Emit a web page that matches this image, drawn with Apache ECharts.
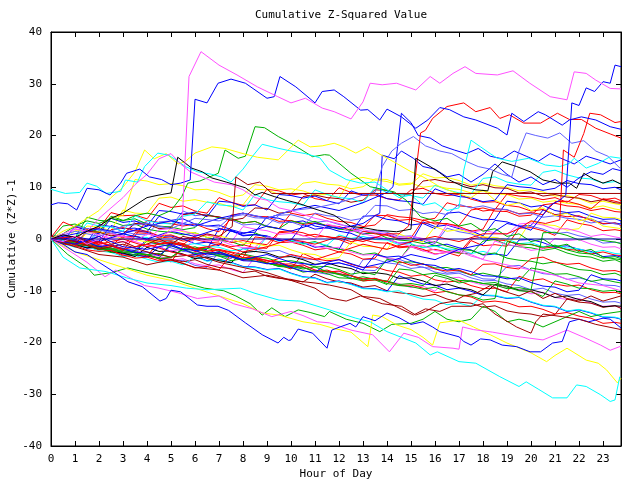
<!DOCTYPE html>
<html><head><meta charset="utf-8">
<script src="https://cdn.jsdelivr.net/npm/echarts@6/dist/echarts.min.js"></script>
<style>html,body{margin:0;padding:0;background:#fff}#c{width:640px;height:480px}</style>
</head><body><div id="c"></div>
<script>
// tick labels
const xTicks = [0,1,2,3,4,5,6,7,8,9,10,11,12,13,14,15,16,17,18,19,20,21,22,23];
const yTicks = [-40,-30,-20,-10,0,10,20,30,40];
// sample hours shared by the half-hourly traces
const hours = [0,0.5,1,1.5,2,2.5,3,3.5,4,4.5,5,5.5,6,6.5,7,7.5,8,8.5,9,9.5,10,10.5,11,11.5,12,12.5,13,13.5,14,14.5,15,15.5,16,16.5,17,17.5,18,18.5,19,19.5,20,20.5,21,21.5,22,22.5,23,23.5,23.75];

// outlying traces: [hour, cumulative (Z*Z)-1]
const m1 = [[0,0],[0.5,-0.5],[1,0.5],[1.5,-1],[2,0],[2.5,1],[3,0.5],[3.5,-0.5],[4,1],[4.5,0.5],[5,1.5],[5.45,1.7],[5.75,31.4],[6.25,36.2],[7.0,33.6],[7.75,31.7],[8.6,29.4],[9.45,27.5],[10,26.3],[10.6,27.2],[11.3,25.3],[11.8,24.6],[12.5,23.2],[13,26.5],[13.3,30.1],[13.8,29.8],[14.4,30.1],[15.2,28.8],[15.8,31.4],[16.2,30.1],[16.75,32],[17.25,33.3],[17.7,32],[18.6,31.7],[19.25,32.5],[19.95,30.1],[20.8,27.5],[21.5,26.9],[21.8,32.3],[22.3,32],[22.7,30.7],[23.3,29.1],[23.75,29]];
const b1 = [[0,6.6],[0.3,7],[0.7,6.8],[1.07,5.6],[1.5,9.8],[2,9.5],[2.46,8.5],[2.9,10.8],[3.15,12.7],[3.7,13.5],[4.1,12],[4.6,11.5],[5.0,10.5],[5.4,10.8],[5.8,11.4],[6.0,27],[6.5,26.3],[6.96,30.1],[7.5,30.9],[8.1,30.1],[9.0,27.2],[9.3,27.5],[9.54,31.4],[10.2,29.4],[11.0,26.3],[11.3,28.5],[11.8,28.8],[12.2,27.5],[12.9,24.9],[13.2,25],[13.7,23],[14.0,25.1],[14.6,23.6],[15.2,21.4],[15.7,23],[16.2,25.4],[16.6,25],[17.2,23.6],[17.7,23],[18.6,21.4],[19,20.1],[19.2,24.3],[19.7,22.7],[20.3,24.6],[20.6,24],[21.3,22],[21.6,23],[22.1,23.6],[22.7,23],[23.3,21.7],[23.75,21.2]];
const b2 = [[0,0],[1,-1],[2,0.5],[3,-1.5],[4,-2],[5,-1],[6,-3],[7,-2.5],[8,-4],[9,-3],[10,-4.5],[11,-5],[12,-4],[13,-5.5],[14,-4.5],[15,-3],[16,-4],[17,-2],[18,-1],[18.5,1.5],[19,3],[19.5,2.5],[20,1.7],[20.4,4],[20.8,6.5],[21.2,7.5],[21.45,8.5],[21.7,26.3],[22,25.8],[22.3,29.2],[22.65,28.5],[23,30.4],[23.3,30.1],[23.5,33.6],[23.75,33.3]];
const r1 = [[0,0],[1,0.5],[2,-1],[3,0],[4,-1.5],[5,-0.5],[6,-2],[7,-1],[8,-2.5],[9,-1.5],[10,0],[11,-1],[12,0.5],[13,-0.5],[14,1],[14.5,1],[14.9,2.5],[15.1,9],[15.4,20.5],[15.6,21],[15.9,23.3],[16.5,25.6],[17.2,26.3],[17.7,24.6],[18.3,25.4],[18.7,23.3],[19.1,24],[19.7,22.4],[20.4,22.4],[21.1,24.3],[21.6,23.1],[22.1,23.1],[22.7,21.4],[23.3,20.3],[23.75,19.5]];
const r2 = [[0,0],[1,-1],[2,-0.5],[3,-2],[4,-1],[5,-2.5],[6,-3.5],[7,-2],[8,-3],[9,-4.5],[10,-3],[11,-4],[12,-2.5],[13,-1],[14,-2],[15,-0.5],[16,0.5],[17,-0.5],[18,1],[19,1],[19.5,2],[20,3.5],[20.6,3],[21.2,3.7],[21.35,17.2],[21.8,15.8],[22.2,20.4],[22.45,24.3],[22.9,24],[23.5,22.5],[23.75,22.7]];
const m2 = [[0,0],[0.5,1],[1,2],[1.5,1.5],[2,4],[2.5,6],[3,8],[3.5,10.5],[4,12.5],[4.5,15.5],[5,16.5],[5.4,14.5],[5.8,13],[6.3,12],[6.8,11],[7.5,10.5],[8,9.5],[8.5,8],[9,7.5],[9.5,6],[10,5.5],[11,4],[12,3],[13,1],[14,0],[15,-1.5],[16,-3],[17,-2],[18,-4],[19,-5],[20,-6],[21,-7],[22,-8.5],[23,-9],[23.75,-10]];
const k1 = [[0,0],[0.5,0.8],[1,0.3],[1.5,1.5],[2,2.5],[2.5,4],[3,5],[3.5,6.5],[4,8],[4.5,8.5],[5.0,8.9],[5.28,15.8],[5.86,13.7],[6.3,13],[6.7,11.8],[7.3,11],[8.1,9.9],[8.5,8.5],[8.8,9],[9.3,8.2],[9.8,7.5],[10.3,6.9],[11,5.8],[11.8,4.6],[12.5,2.4],[13,2.2],[13.6,1.7],[14.4,1.4],[15,1.9],[15.2,15.6],[15.8,14],[16.2,12.8],[16.6,11.4],[17.2,10.1],[17.7,9.5],[18.2,9.3],[18.4,13],[18.8,14.9],[19.4,14],[19.96,13],[20.5,11.4],[21.1,10.8],[21.6,10.8],[21.9,9.8],[22.2,12.7],[22.6,11.6],[23,10.8],[23.4,11.4],[23.75,10.6]];
const dr1 = [[0,0],[0.5,-0.5],[1,0.5],[1.5,-0.5],[2,0.5],[2.5,-1],[3,-0.5],[3.5,-1.5],[4,-1],[4.5,0],[5,-1],[5.5,0.5],[6,0],[6.5,1],[7,0.5],[7.55,2.4],[7.7,12],[8.2,10.5],[8.7,11],[9.2,8.8],[23.75,8.8]];
const g1 = [[0,0],[0.5,1],[1,2.5],[1.5,3.5],[2,3],[2.5,4],[3,3.5],[3.5,4.5],[4,5],[4.5,4.5],[5,5.5],[5.45,8.2],[5.7,10.8],[6.2,11.2],[6.97,12.7],[7.25,17.2],[7.8,15.6],[8.1,16],[8.5,21.7],[8.9,21.5],[9.47,19.8],[10,18.5],[10.9,15.9],[11.4,16.3],[11.6,16.2],[12.5,12.7],[13.3,10.1],[14.3,9.1],[14.8,7.5],[15.4,4.3],[16,3.5],[16.5,4],[17,2.5],[17.5,3],[18,1.5],[18.5,2],[19,0.5],[19.5,1],[20,-0.5],[20.5,0],[21,-1.5],[21.5,-1],[22,-2.5],[22.5,-2],[23,-3.5],[23.75,-4]];
const y1 = [[0,0],[0.5,1.5],[1,2.5],[1.5,4],[2,5.5],[2.5,8],[3,10],[3.5,13],[3.9,17.2],[4.3,15.5],[4.8,16.5],[5.3,14.5],[5.6,15],[6,16.6],[6.7,17.8],[7.25,17.5],[8,16.5],[8.6,15.8],[9.47,15.3],[10.3,19.1],[10.8,17.8],[11.3,18],[11.8,18.5],[12.2,17.8],[12.7,16.6],[13.2,17.8],[13.7,16.4],[14.4,14.6],[15.0,13],[15.5,12],[16.2,10.1],[16.8,9],[17.5,8],[18,9.5],[18.5,7.5],[19,6.5],[19.5,7],[20,5.5],[20.5,6],[21,4.5],[21.5,5],[22,3.5],[22.5,4],[23,2.5],[23.75,2]];
const c1 = [[0,9.6],[0.6,8.8],[1.2,9],[1.5,10.8],[1.9,10.2],[2.3,8.8],[2.9,9.2],[3.1,11.4],[3.6,11],[3.9,14],[4.45,16.6],[4.9,16.2],[5.3,15],[5.6,14],[6.1,13],[6.7,12.5],[7.1,12],[7.5,11],[8.0,13.5],[8.4,16],[8.8,18.3],[9.5,17.5],[10,17],[10.6,16.5],[11.2,15.7],[11.6,13.3],[12.3,11.5],[12.9,10.8],[13.5,11],[14,9.5],[14.5,8],[15,8.5],[15.5,6.5],[16,7],[16.5,5.5],[17,6],[17.2,13.3],[17.5,19.1],[17.9,17.8],[18.3,16.5],[18.6,15.6],[19.2,15],[19.9,15.6],[20.6,14.3],[21.2,14],[21.6,14.6],[21.8,15.6],[22.3,13.7],[22.8,14.6],[23.3,15.9],[23.75,15.6]];
const b4 = [[0,0],[1,0.5],[2,-0.5],[3,1],[4,0],[5,1.5],[6,0.5],[7,2],[8,1],[9,2.5],[10,1.5],[11,3],[12,2],[13,3],[13.5,4.5],[13.7,5],[13.8,16.2],[14.3,15.5],[14.6,17],[15.1,15.6],[15.5,14],[16,13.5],[16.5,12],[17,12.5],[17.5,11],[18,12.5],[18.5,14.5],[19,12.5],[19.5,11],[20,12],[20.5,10.5],[21,11.5],[21.5,10],[22,11.8],[22.5,13],[23,12.5],[23.4,13.6],[23.75,13.2]];
const b5 = [[0,0],[1,1],[2,2],[3,1],[4,2.5],[5,3.5],[6,2.5],[7,4],[8,5],[9,4],[10,5.5],[11,6.5],[12,5.5],[13,7],[13.5,8],[14,9],[14.25,10.1],[14.6,24.3],[15.0,22.5],[15.3,20],[15.8,19.5],[16.3,18],[16.8,17.2],[17.3,16.5],[17.8,17.5],[18.3,16],[18.8,15.5],[19.3,17],[19.8,16],[20.3,15],[20.8,16.5],[21.3,15.5],[21.8,14.5],[22.3,16],[22.8,15.3],[23.3,14.5],[23.75,15.3]];
const lb1 = [[0,0],[1,1.5],[2,0.5],[3,2.5],[4,3],[5,2],[6,4],[7,3.5],[8,5],[9,4],[10,5.5],[11,6],[12,7],[13,8.5],[13.5,9],[13.8,14],[14.2,17],[14.6,18.5],[15.1,19.8],[15.6,18],[16.2,17],[16.7,16.5],[17.3,15],[17.8,14],[18.3,13.5],[18.8,12.5],[19.2,12],[19.5,17],[19.8,20.5],[20.2,20],[20.7,19.5],[21.2,20.5],[21.7,18.5],[22.2,19],[22.7,17],[23.2,16],[23.75,13.5]];
// traced lower traces
const l12 = [[0,0],[0.7,-3],[1.55,-5.7],[1.8,-7],[2.5,-6.5],[3.2,-5.6],[4,-6.5],[5,-7.5],[5.6,-8.5],[6.4,-9.5],[7.2,-10],[7.7,-11],[8.3,-12.5],[8.8,-14.7],[9.2,-13.3],[9.75,-15],[10.3,-13.7],[10.8,-14.2],[11.4,-15],[11.6,-14],[12.3,-15.5],[13,-16.3],[13.7,-17.9],[14.2,-16.5],[15,-16.3],[15.5,-15.5],[16,-14],[16.5,-15.5],[17,-16],[17.5,-15.5],[18,-13],[18.5,-14],[19,-16],[19.5,-15.5],[20,-16],[20.5,-17],[21,-16],[21.5,-15],[22,-14],[22.5,-15],[23,-14.5],[23.75,-14]];
const l13 = [[0,0],[1,-2.5],[2,-4],[3,-5.5],[4,-7],[5,-8],[6,-9.5],[7,-11],[8,-12.5],[8.8,-14.3],[9.5,-14.7],[10.5,-16],[11.2,-16.5],[11.8,-17.3],[12.5,-18],[13.2,-20.8],[13.3,-18.2],[13.4,-14.7],[13.8,-15],[14.4,-16.6],[15,-17.5],[15.5,-19],[15.9,-20.5],[16.2,-16.2],[17,-15.7],[17.6,-17],[18.3,-18.5],[19,-20.1],[20,-22],[20.65,-23.7],[21,-22.5],[21.5,-21.1],[22.3,-23.4],[22.8,-24],[23.15,-25.3],[23.6,-27.8],[23.75,-26.9]];
const l14 = [[0,0],[0.5,-1.5],[1,-3],[1.5,-4.5],[2.25,-7.3],[2.7,-6],[3.3,-7.5],[3.9,-9],[4.5,-9.5],[5.3,-10.4],[6.1,-11.5],[7,-11],[7.6,-12.5],[8.4,-13.5],[9.2,-15],[10,-14],[10.5,-14.8],[11.1,-16],[11.6,-16.2],[12.5,-17.6],[13.4,-18.5],[14.1,-21.8],[14.7,-18.2],[15.3,-19],[15.9,-20.8],[16.75,-21.1],[17.0,-21.3],[17.15,-17],[17.6,-17.5],[18.4,-18],[19.5,-18.9],[20.5,-19.5],[21.5,-17.6],[22.2,-19],[22.9,-20.5],[23.3,-21.5],[23.75,-20.7]];
const l15 = [[0,0],[0.5,-3.5],[1.2,-5.6],[2.3,-6.3],[3.15,-7.5],[4,-8.5],[5,-9],[5.65,-9.5],[6.5,-9.8],[7.9,-9.5],[8.5,-10.5],[9.5,-11.8],[10.4,-12],[11.6,-13.7],[12.7,-15.3],[13.3,-16],[14,-17.9],[14.6,-19],[15.2,-20.1],[15.8,-22.4],[16.1,-21.8],[17,-23.7],[17.7,-24],[18.7,-26.6],[19.5,-28.5],[19.8,-27.6],[20.3,-29],[20.9,-30.7],[21.5,-30.7],[21.9,-28.2],[22.3,-28.5],[22.9,-30.1],[23.3,-31.4],[23.5,-31.1],[23.7,-26.6]];
const l16 = [[0,0],[0.5,-1],[1,-2.5],[1.5,-3],[2,-4.5],[2.5,-6],[3.2,-8.25],[3.8,-9.2],[4.54,-12],[4.8,-11.5],[5.0,-9.9],[5.4,-10.2],[6.1,-12.75],[6.5,-13],[6.96,-13],[7.4,-13.8],[8.1,-16.2],[8.8,-18.5],[9.46,-20.1],[9.7,-19],[9.9,-19.6],[10,-19.5],[10.3,-17.4],[10.9,-18.2],[11.5,-21.1],[11.7,-17.6],[12.04,-17],[12.46,-16.3],[12.7,-17],[13,-15],[13.5,-15.8],[14,-14.3],[14.5,-15.2],[15,-16.5],[15.5,-16],[15.9,-17],[16.2,-17.9],[17,-18.9],[17.2,-19.8],[17.5,-20.5],[17.9,-19.3],[18.3,-19.5],[18.8,-20.5],[19.4,-20.8],[19.96,-21.8],[20.4,-21.8],[20.9,-20.1],[21.3,-19.8],[21.6,-16],[22,-15.5],[22.4,-16],[23,-15.3],[23.3,-15.5],[23.75,-17.2]];
const l17 = [[0,0],[1,-1.5],[2,-3],[3,-3.5],[4,-5],[5,-4],[6,-5.5],[7,-6],[8,-7.5],[9,-7],[10,-8],[11,-8.5],[11.6,-8.9],[12.5,-9.8],[13,-11.1],[13.7,-11.5],[14.4,-13.1],[15.1,-14.7],[15.6,-13.5],[16.2,-14],[16.7,-13],[17.5,-13],[18,-12.5],[18.5,-14.5],[19.4,-17],[20,-18.2],[20.2,-16],[20.5,-14.5],[21.3,-15],[22,-15.5],[22.7,-16.5],[23.75,-17.5]];
const l18 = [[0,0.5],[1,-0.5],[2,-2],[3,-1],[4,-2.5],[5,-3.5],[6,-3],[7,-4.5],[8,-5.5],[9,-6.5],[10,-8],[11,-9.5],[11.6,-11.4],[12.3,-12],[12.9,-11],[13.8,-12.5],[14.6,-13],[15.2,-14.7],[15.6,-14],[16.2,-12.5],[16.8,-12],[17.2,-11],[17.7,-10.5],[18.3,-9],[18.8,-10],[19.5,-11],[20,-10],[20.5,-11.5],[21,-10.5],[21.5,-11.5],[22,-12],[22.5,-11],[23,-12],[23.75,-11]];
// bulk of the traces, one value per entry of `hours`
const s1 = [0,-0.8,-0.5,-1.0,-1.2,-1.9,-1.5,1.2,1.1,0.2, 0.4,-0.4,-0.1,-0.6,-0.8,-1.5,-1.1,-1.7,-1.8,1.2, 1.4,0.6,0.9,0.4,0.2,-0.5,-0.1,-0.7,-0.8,-1.7, -1.5,-2.3,-2.0,-2.5,-2.7,0.0,0.4,-0.2,-0.3,-1.2, -1.0,-1.8,-1.5,-2.0,-2.2,-2.9,-2.5,-3.1,-3.2];
const s2 = [0.5,-0.1,-1.0,-0.7,2.8,2.4,1.4,1.6,1.3,0.5, 0.6,0.0,-0.9,-0.6,-1.3,1.7,0.7,0.9,0.6,-0.2, -0.1,-0.7,-1.6,-1.3,-2.0,2.0,1.0,1.2,0.9,0.1, 0.2,-0.4,-1.3,-1.0,-1.7,-2.1,-3.1,-2.9,-3.2,-0.2, -0.1,-0.7,-1.6,-1.3,-2.0,-2.4,-3.4,-3.2,-3.5];
const s3 = [-0.3,0.0,-1.0,-1.4,-1.2,-2.1,-2.7,-2.6,-3.3,-3.6, -4.4,-4.1,-5.1,-5.5,-2.5,-3.4,-4.0,-3.9,-4.6,-4.9, -5.7,-5.4,-6.4,-6.8,-6.6,-7.5,-4.0,-3.9,-4.6,-4.9, -5.7,-5.4,-6.4,-6.8,-6.6,-7.5,-8.1,-8.0,-8.7,-9.0, -9.8,-9.5,-10.5,-10.9,-10.7,-11.6,-12.2,-12.1,-12.4];
const s4 = [0.3,-0.2,0.2,4.2,3.6,3.4,2.6,2.9,1.9,1.5, 1.3,0.8,1.2,0.3,-0.3,-0.5,-1.3,1.2,0.2,-0.2, -0.4,-0.9,-0.5,-1.4,-2.0,-2.2,-3.0,-2.7,-3.7,-4.1, -1.1,-1.6,-1.2,-2.1,-2.7,-2.9,-0.4,-0.1,-1.1,-1.5, -1.7,-2.2,-1.8,-2.7,-3.3,-3.5,-4.3,-4.0,-4.5];
const s5 = [0,-0.6,-1.5,-1.2,-1.9,-2.3,-3.3,-3.1,-3.4,-0.4, -0.3,-0.9,-1.8,-1.5,-2.2,-2.6,-3.6,0.4,0.1,-0.7, -0.6,-1.2,-2.1,-1.8,-2.5,-2.9,-3.9,-3.7,-0.7,-1.5, -1.4,-2.0,-2.9,-2.6,-3.3,-0.3,-1.3,-1.1,-1.4,2.1, 2.2,1.6,0.7,3.7,3.0,2.6,1.6,1.8,1.6];
const s6 = [0,0.3,-0.7,-1.1,-0.9,-1.8,-2.4,-2.3,-3.0,-3.3, -4.1,-3.8,-4.8,-5.2,-5.0,-5.9,-6.5,-3.5,-4.2,-4.5, -5.3,-5.0,-6.0,-6.4,-6.2,-7.1,-7.7,-7.6,-8.3,-8.6, -9.4,-9.1,-10.1,-7.6,-7.4,-8.3,-8.9,-8.8,-9.5,-9.8, -10.6,-10.3,-11.3,-11.7,-11.5,-12.4,-13.0,-12.9,-13.3];
const s7 = [0.3,-0.5,-0.2,-0.7,1.3,0.6,1.0,0.4,0.3,-0.6, -0.4,-1.2,-0.9,-1.4,-1.6,-2.3,-1.9,-2.5,0.5,-0.4, -0.2,-1.0,-0.7,-1.2,0.8,0.1,0.5,-0.1,-0.2,-1.1, -0.9,-1.7,-1.4,-1.9,-2.1,-2.8,-2.4,-3.0,0.0,-0.9, -0.7,-1.5,-1.2,-1.7,-1.9,-2.6,-2.2,-2.8,-2.9];
const s8 = [0,-0.5,-0.1,-1.0,-1.6,-1.8,-2.6,-2.3,-3.3,-3.7, -3.9,-4.4,-4.0,-4.9,-5.5,-5.7,-6.5,-6.2,-7.2,-7.6, -7.8,-8.3,-6.8,-7.7,-8.3,-8.5,-9.3,-9.0,-10.0,-10.4, -10.6,-11.1,-10.7,-11.6,-12.2,-12.4,-13.2,-12.9,-13.9,-14.3, -14.5,-15.0,-14.6,-11.6,-12.2,-12.4,-13.2,-12.9,-13.4];
const s9 = [0,0.4,-0.3,-0.9,-0.6,-1.4,-2.0,-2.2,-0.1,-0.9, -0.8,-1.4,-2.3,-2.0,2.0,1.6,0.6,0.8,0.5,-0.3, -0.2,2.8,1.9,2.2,1.5,1.1,0.1,0.3,0.0,-0.8, -0.7,3.3,2.4,2.7,2.0,1.6,0.6,3.6,3.3,2.5, 2.6,5.6,4.7,5.0,4.3,3.9,2.9,3.1,2.9];
const s10 = [0,0.5,0.2,2.5,2.3,1.6,5.6,5.0,4.9,7.9, 8.1,7.3,7.6,7.1,6.9,6.2,6.6,9.6,9.5,8.6, 8.8,10.8,11.1,10.6,10.4,9.7,10.1,11.6,11.5,10.6, 10.8,10.0,10.3,9.8,9.6,8.9,9.3,8.7,8.6,7.7, 7.9,7.1,7.4,6.9,6.7,6.0,6.4,5.8,5.6];
const s11 = [-0.3,-0.9,-0.6,-1.5,-2.1,-1.9,-2.8,-3.2,-3.0,-3.9, -4.4,-1.4,-2.4,-2.8,-2.6,-3.5,-4.1,-4.0,-4.7,-5.0, -5.8,-2.8,-3.8,-4.2,-4.0,-4.9,-5.5,-5.4,-6.1,-6.4, -7.2,-6.9,-7.9,-8.3,-8.1,-9.0,-9.6,-9.5,-10.2,-7.2, -8.0,-7.7,-8.7,-9.1,-8.9,-9.8,-10.4,-10.3,-10.6];
const s12 = [0,0.3,-0.2,1.9,1.3,1.1,0.3,0.6,3.6,3.2, 3.0,2.5,2.9,2.0,1.4,3.9,3.1,3.4,2.4,2.0, 5.0,4.5,4.9,4.0,3.4,3.2,2.4,2.7,4.7,4.3, 4.1,3.6,4.0,7.0,6.4,6.2,5.4,5.7,8.7,8.3, 8.1,7.6,8.0,7.1,8.6,8.4,7.6,7.9,7.4];
const s13 = [0.5,0.8,-0.2,-0.6,-0.4,2.6,2.0,2.1,1.4,4.4, 3.6,3.9,2.9,2.5,2.7,1.8,1.2,1.3,4.3,4.0, 3.2,3.5,2.5,2.1,2.3,1.4,4.4,4.5,3.8,3.5, 2.7,3.0,2.0,5.0,5.2,4.3,3.7,3.8,7.3,7.0, 6.2,6.5,5.5,5.1,5.3,4.4,3.8,3.9,3.5];
const s14 = [0,0.4,-0.2,-0.5,-1.1,1.8,2.2,1.6,1.5,0.6, 0.8,0.0,0.3,-0.2,-0.4,4.6,5.0,4.4,4.3,3.4, 3.6,2.8,3.1,2.6,2.4,1.7,2.1,4.6,4.5,3.6, 3.8,3.0,3.3,2.8,2.6,5.6,6.0,5.4,5.3,4.4, 4.6,6.6,6.9,6.4,6.2,5.5,5.9,5.3,5.2];
const s15 = [0,0.3,-0.2,-0.8,1.8,1.4,0.4,3.4,3.1,2.3, 2.4,5.4,4.5,4.8,4.1,3.7,2.7,2.9,2.6,4.6, 4.7,4.1,3.2,3.5,2.8,2.4,1.4,1.6,1.3,0.5, 0.6,0.0,-0.9,2.1,1.4,1.0,0.0,0.2,-0.1,2.4, 2.5,1.9,1.0,1.3,0.6,0.2,-0.8,-0.6,-0.8];
const s16 = [0,2.5,2.9,2.0,1.4,4.4,3.6,3.9,2.9,2.5, 2.3,1.8,2.2,4.7,4.1,3.9,3.1,3.4,2.4,2.0, 3.5,3.0,3.4,2.5,1.9,1.7,0.9,1.2,0.2,-0.2, -0.4,-0.9,-0.5,-1.4,-2.0,-2.2,-3.0,-2.7,-3.7,-4.1, -4.3,-4.8,-4.4,-5.3,-5.9,-6.1,-6.9,-6.6,-7.1];
const s17 = [0.3,3.3,2.3,1.9,2.1,5.1,4.5,4.6,3.9,6.9, 6.1,6.4,5.4,5.0,8.0,7.1,6.5,6.6,9.6,9.3, 8.5,8.8,7.8,7.4,9.9,9.0,8.4,8.5,7.8,7.5, 9.5,9.8,8.8,8.4,8.6,7.7,7.1,7.2,6.5,6.2, 5.4,5.7,4.7,4.3,4.5,3.6,3.0,3.1,2.6];
const s18 = [0,-0.7,-0.9,-1.8,-1.5,-2.1,-2.9,-3.0,-3.5,-1.5, -2.4,-3.1,-3.3,-4.2,-3.9,-4.5,-5.3,-5.4,-5.9,-5.7, -6.6,-7.3,-7.5,-8.4,-8.1,-8.7,-9.5,-9.6,-10.1,-7.1, -8.0,-8.7,-8.9,-9.8,-9.5,-10.1,-10.9,-11.0,-11.5,-11.3, -12.2,-12.9,-13.1,-14.0,-13.7,-14.3,-15.1,-15.2,-15.5];
const s19 = [0,-0.2,-0.8,-0.6,-1.5,-2.0,-1.8,-2.6,-1.0,-0.8, -1.7,-2.4,-2.6,-3.5,-3.2,-3.8,-1.8,-1.9,-2.4,-2.2, -3.1,-3.8,-4.0,-4.9,-4.6,-5.2,-6.0,-6.1,-4.1,-3.9, -4.8,-5.5,-5.7,-6.6,-6.3,-6.9,-7.7,-7.8,-5.3,-5.1, -6.0,-6.7,-6.9,-7.8,-7.5,-8.1,-8.9,-9.0,-9.3];
const s20 = [0,-0.9,-1.6,-1.4,-2.3,-2.6,-3.4,-3.2,-3.9,-4.5, -4.3,-5.0,-3.4,-4.3,-4.0,-4.6,-5.4,-5.5,-6.0,-5.8, -6.7,-7.4,-7.6,-8.5,-8.2,-8.8,-9.6,-9.7,-10.2,-10.0, -10.9,-11.6,-11.8,-12.7,-12.4,-13.0,-10.8,-10.9,-11.4,-11.2, -12.1,-12.8,-13.0,-13.9,-13.6,-14.2,-15.0,-15.1,-15.4];
const s21 = [0,-0.3,-1.1,-1.7,-1.4,-2.5,-2.7,-3.4,-1.6,-2.4, -2.3,-2.9,-3.8,-3.5,-4.2,-4.6,-2.6,-2.4,-2.7,-3.5, -3.4,-4.0,-4.9,-4.6,-5.3,-5.7,-6.7,-6.5,-6.8,-7.6, -7.5,-8.1,-9.0,-8.7,-9.4,-9.8,-10.8,-8.8,-9.1,-9.9, -9.8,-10.4,-11.3,-11.0,-11.7,-12.1,-13.1,-12.9,-13.0];
const s22 = [0,-0.6,-0.4,-1.0,0.9,0.0,-0.6,-0.5,-1.2,-1.5, -2.3,-2.0,0.0,-0.4,-0.2,-1.1,-1.7,-1.6,0.4,0.1, -0.7,-0.4,-1.4,-1.8,-1.6,-2.5,-3.1,-3.0,-3.7,-4.0, -1.5,-1.2,-2.2,-2.6,-2.4,-3.3,-3.9,-0.4,-1.1,-1.4, -2.2,-1.9,0.1,-0.3,-0.1,-1.0,-1.6,-1.5,-1.9];
const s23 = [0,-0.4,-1.2,-1.1,-1.7,-2.6,-2.2,-2.7,-3.0,-3.7, -0.7,-1.1,-1.9,-1.8,-2.4,-3.3,-2.9,-3.4,-3.7,-4.4, -4.2,-4.6,-5.4,-5.3,-5.9,-6.8,-6.4,-6.9,-3.9,-4.6, -4.4,-4.8,-5.6,-5.5,-6.1,-7.0,-6.6,-7.1,-7.4,-8.1, -5.6,-6.0,-6.8,-6.7,-7.3,-8.2,-7.8,-8.3,-8.5];
const s24 = [0,-0.4,1.6,1.7,1.1,4.1,4.5,11.5,11.2,10.5, 10.7,10.3,9.5,9.6,9.0,8.1,8.5,10.5,10.2,9.5, 9.7,9.3,8.5,8.6,8.0,11.5,11.9,11.4,11.1,10.4, 10.6,12.6,11.8,11.9,11.3,10.4,10.8,10.3,10.0,9.3, 9.5,9.1,8.3,8.4,7.8,6.9,7.3,6.8,6.6];
const s25 = [0,-0.9,-0.6,-1.2,-2.0,-2.1,-2.6,-2.4,-0.4,-1.1, -1.3,-2.2,-1.9,-2.5,-3.3,-3.4,-3.9,-3.7,-4.6,-5.3, -5.5,-6.4,-6.1,-6.7,-7.5,-7.6,-8.1,-7.9,-8.8,-5.8, -6.0,-6.9,-6.6,-7.2,-8.0,-8.1,-8.6,-8.4,-9.3,-10.0, -10.2,-11.1,-8.1,-8.7,-9.5,-9.6,-10.1,-9.9,-10.4];
const s26 = [0,0.2,-0.5,-0.8,-0.6,-1.4,0.6,0.1,-0.2,-0.9, -0.7,-1.1,0.7,0.8,0.2,-0.7,-0.3,-0.8,-1.1,1.4, 1.6,1.2,0.4,0.5,-0.1,-1.0,1.5,1.0,0.7,0.0, 0.2,3.7,2.9,3.0,2.4,1.5,1.9,5.9,5.6,4.9, 5.1,4.7,7.2,7.3,6.7,5.8,7.8,7.3,7.0];
const s27 = [0,-0.5,2.5,1.6,1.0,4.0,3.2,3.5,2.5,5.5, 5.3,4.8,5.2,4.3,7.3,7.1,6.3,6.6,5.6,8.6, 8.4,7.9,8.3,7.4,6.8,9.3,8.5,8.8,7.8,7.4, 7.2,6.7,9.7,8.8,8.2,8.0,7.2,7.5,10.5,10.1, 9.9,9.4,9.8,11.3,10.7,10.5,9.7,10.0,9.5];
const s28 = [0,-0.3,-1.0,1.1,1.4,0.8,0.0,-0.1,-0.6,-0.4, 2.1,1.4,1.2,0.3,0.6,0.0,-0.8,-0.9,-1.4,-1.2, -2.1,-2.8,-3.0,-3.9,-3.6,-0.6,-1.4,-1.5,-2.0,1.0, 0.1,-0.6,2.4,1.5,1.8,1.2,0.4,0.3,-0.2,0.0, 3.5,2.8,2.6,1.7,2.0,5.0,4.2,4.1,3.8];
const s29 = [0,-1.0,-1.2,-2.1,-2.4,-2.2,-3.1,-3.7,-3.5,-4.2, -4.1,-4.7,-5.6,-5.3,-6.0,-3.0,-4.0,-3.8,-4.1,-4.9, -4.8,-5.4,-6.3,-6.0,-6.7,-7.1,-8.1,-7.9,-8.2,-9.0, -8.9,-9.5,-10.4,-10.1,-10.8,-11.2,-12.2,-12.0,-12.3,-13.1, -13.0,-13.6,-14.5,-14.2,-14.9,-15.3,-16.3,-16.1,-16.3];
const s30 = [0.3,-0.5,2.5,2.0,1.8,1.1,1.5,0.9,0.8,3.3, 3.5,2.7,3.0,2.5,2.3,4.3,4.7,4.1,4.0,3.1, 3.3,2.5,5.0,4.5,4.3,3.6,4.0,6.5,6.4,5.5, 5.7,4.9,5.2,4.7,6.7,6.0,6.4,5.8,5.7,4.8, 5.0,4.2,4.5,4.0,3.8,3.1,3.5,2.9,2.8];
const s31 = [0,-0.2,-0.9,-0.7,-1.4,-2.0,-1.9,-2.7,-3.0,-2.8, -3.6,-1.9,-1.5,-2.4,-3.0,-3.2,-4.0,-3.7,-4.7,-5.1, -5.3,-5.8,-5.4,-6.3,-6.9,-7.1,-7.9,-7.6,-8.6,-9.0, -9.2,-9.7,-9.3,-10.2,-10.8,-11.0,-11.8,-11.5,-0.5,-0.9, -1.1,-1.6,-1.2,-2.1,-2.7,-2.9,-3.7,-3.4,-3.8];
const s32 = [0,-0.6,-0.4,-1.3,-1.9,-1.7,-2.5,-3.1,-3.0,-3.8, -3.5,-2.0,-2.8,-2.7,-3.3,-4.2,-3.8,-4.3,-4.6,-5.3, -5.1,-5.5,-6.3,-6.2,-6.8,-7.7,-7.3,-7.8,-8.1,-8.8, -8.6,-9.0,-7.0,-7.6,-8.5,-8.1,-8.6,-8.9,-9.6,-9.4, -9.8,1.2,1.3,0.7,-0.2,0.2,-0.3,-0.6,-0.9];
const s33 = [0,-0.5,-0.3,-1.2,-1.6,-1.3,-2.2,0.6,-0.1,-0.4, -1.2,-0.9,-1.9,-2.3,-2.1,-3.0,-3.6,-3.5,-4.2,-4.5, -5.3,-5.0,-6.0,-6.4,-6.2,-7.1,-7.7,-7.6,-8.3,-4.3, -5.1,-4.8,-5.8,-6.2,-6.0,-6.9,-4.9,-4.8,-5.5,-5.8, -3.8,-3.5,-4.5,-4.9,-4.7,-5.6,-6.2,-6.1,-6.4];
const s34 = [0,0.3,-0.4,-0.6,-1.5,-1.1,-1.9,-2.6,-2.5,-3.2, -1.3,-2.0,-2.2,-3.1,-2.8,-3.4,-4.2,-4.3,-4.8,-4.6, -5.5,-6.2,-6.4,-4.9,-4.6,-5.2,-6.0,-3.0,-3.5,-3.3, -4.2,-4.9,-5.1,-6.0,-5.7,-6.3,-7.1,-7.2,-7.7,-7.5, -8.4,-9.1,-9.3,-10.2,-9.9,-6.9,-7.7,-7.8,-8.1];
const s35 = [0,-0.4,-1.0,1.5,1.3,0.6,1.0,3.0,2.9,2.0, 2.2,4.7,5.0,4.5,4.3,3.6,4.0,6.0,5.9,5.0, 5.2,8.2,8.5,8.0,7.8,7.1,7.5,9.5,9.4,8.5, 8.7,11.2,11.5,11.0,10.8,10.1,10.5,9.9,9.8,8.9, 9.1,8.3,8.6,8.1,7.9,7.2,7.6,7.0,6.9];
const s36 = [0,0.4,1.9,1.4,0.8,0.2,0.6,0.1,-0.2,1.8, 2.0,1.6,0.8,0.9,0.3,-0.6,2.4,1.9,1.6,0.9, 1.1,0.7,-0.1,2.9,2.3,1.4,1.8,1.3,1.0,0.3, 0.5,0.1,-0.7,2.8,2.2,1.3,1.7,1.2,0.9,2.9, 3.1,2.7,1.9,2.0,1.4,0.5,0.9,0.4,0.2];
const s37 = [0.2,-0.3,0.1,3.1,2.5,2.3,1.5,4.5,3.5,3.1, 2.9,4.4,4.8,7.2,6.6,6.4,5.6,8.6,7.6,7.2, 7.0,6.5,9.5,8.6,8.0,7.8,7.0,10.0,9.0,8.6, 8.4,7.9,10.4,9.5,8.9,8.7,11.7,12.0,11.0,10.6, 10.4,12.9,13.3,12.4,11.8,11.6,10.8,11.1,10.6];
const zeroLine = [[0,0],[23.75,0]];

const RED='#ff0000', GRN='#00b000', BLU='#0000ff', MAG='#ff50ff', CYN='#00ffff', YEL='#ffff00', BLK='#000000', LBL='#6060ff', DRD='#a00000', NAV='#0000a0';
const halfHourly = [
  [s1,RED],[s2,BLU],[s3,LBL],[s4,GRN],[s5,RED],[s6,MAG],[s7,CYN],[s8,DRD],[s9,BLU],[s10,YEL],
  [s11,RED],[s12,RED],[s13,BLU],[s14,RED],[s15,LBL],[s16,GRN],[s17,RED],[s18,BLU],[s19,LBL],[s20,CYN],
  [s21,BLK],[s22,MAG],[s23,GRN],[s24,YEL],[s25,GRN],[s26,RED],[s27,BLU],[s28,YEL],[s29,RED],[s30,LBL],
  [s31,GRN],[s32,GRN],[s33,RED],[s34,BLU],[s35,DRD],[s36,MAG],[s37,CYN]
];
const paired = [
  [l12,GRN],[l13,YEL],[l14,MAG],[l15,CYN],[l16,BLU],[l17,DRD],[l18,DRD],
  [b4,BLU],[b5,BLU],[lb1,LBL],[g1,GRN],[y1,YEL],[c1,CYN],[m2,MAG],[dr1,DRD],[r1,RED],[r2,RED],[k1,BLK],[b2,BLU],[b1,BLU],[m1,MAG],
  [zeroLine,NAV]
];
const lines = halfHourly.map(([v,c]) => [v.map((y,i) => [hours[i], y]).filter(p => p[0] !== undefined), c]).concat(paired);

const FONT = 'DejaVu Sans Mono';
const chart = echarts.init(document.getElementById('c'), null, {renderer:'canvas'});
const tickStyle = {show:true, inside:true, length:5, lineStyle:{color:'#000', width:1}};
const axLine = {show:true, onZero:false, lineStyle:{color:'#000', width:1}};
chart.setOption({
  animation:false,
  backgroundColor:'#fff',
  title:{text:'Cumulative Z-Squared Value', left:336, top:5, textAlign:'center',
    textStyle:{fontFamily:FONT, fontSize:11, fontWeight:'normal', color:'#000'}},
  grid:{left:51, right:19, top:32, bottom:34, outerBoundsMode:'none', containLabel:false,
    show:true, borderColor:'#000', borderWidth:1, backgroundColor:'transparent'},
  xAxis:[
    {type:'value', min:0, max:23.75, interval:1, position:'bottom',
     name:'Hour of Day', nameLocation:'middle', nameGap:23, nameMoveOverlap:false,
     nameTextStyle:{fontFamily:FONT, fontSize:11, color:'#000'},
     axisLine:axLine, axisTick:tickStyle, splitLine:{show:false},
     axisLabel:{fontFamily:FONT, fontSize:11, color:'#000', margin:8, showMaxLabel:false,
       formatter:v => xTicks.includes(v) ? String(v) : ''}},
    {type:'value', min:0, max:23.75, interval:1, position:'top',
     axisLine:axLine, axisTick:tickStyle, splitLine:{show:false}, axisLabel:{show:false}}
  ],
  yAxis:[
    {type:'value', min:-40, max:40, interval:10, position:'left',
     name:'Cumulative (Z*Z)-1', nameLocation:'middle', nameGap:33, nameRotate:90, nameMoveOverlap:false,
     nameTextStyle:{fontFamily:FONT, fontSize:11, color:'#000'},
     axisLine:axLine, axisTick:tickStyle, splitLine:{show:false},
     axisLabel:{fontFamily:FONT, fontSize:11, color:'#000', margin:9,
       formatter:v => yTicks.includes(v) ? String(v) : ''}},
    {type:'value', min:-40, max:40, interval:10, position:'right',
     axisLine:axLine, axisTick:tickStyle, splitLine:{show:false}, axisLabel:{show:false}}
  ],
  series: lines.map(([d,c]) => ({type:'line', data:d, showSymbol:false, symbol:'none',
    lineStyle:{color:c, width:1}, itemStyle:{color:c}, silent:true, clip:true}))
});
</script></body></html>
